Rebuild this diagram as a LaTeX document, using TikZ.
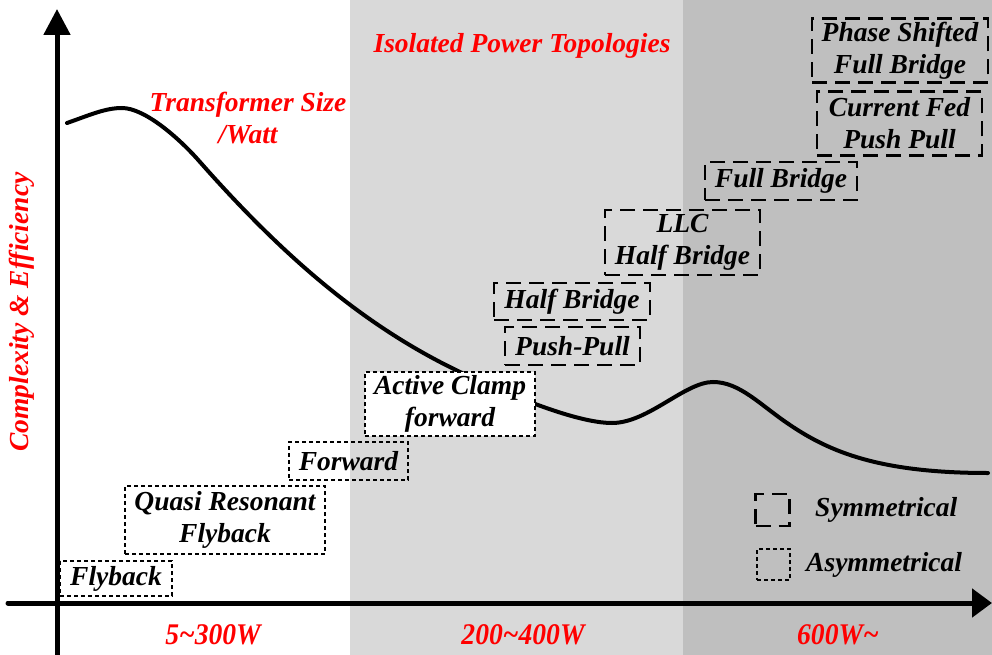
\documentclass[tikz,border=0pt]{standalone}
\usepackage{fontspec}
\setmainfont{Liberation Serif}
\usetikzlibrary{arrows.meta}
\definecolor{gA}{RGB}{217,217,217}
\definecolor{gB}{RGB}{191,191,191}
\tikzset{
  x=1pt, y=-1pt,
  lbl/.style={font=\fontsize{27.5}{32}\selectfont\bfseries\itshape, align=center, inner sep=0pt},
  redlbl/.style={lbl, text=red},
  rangelbl/.style={redlbl, font=\fontsize{30}{32}\selectfont\bfseries\itshape, xscale=0.92},
  symbox/.style={lbl, draw=black, line width=2.6pt, dash pattern=on 15pt off 8pt},
  asybox/.style={lbl, draw=black, line width=2.2pt, dash pattern=on 4pt off 3pt},
}
\begin{document}
\begin{tikzpicture}
\useasboundingbox (0,0) rectangle (992,655);
% background bands
\fill[white] (0,0) rectangle (350,655);
\fill[gA] (350,0) rectangle (683,655);
\fill[gB] (683,0) rectangle (992,655);

% curve
\coordinate (c0) at (67,123);
\coordinate (c1) at (122,108);
\coordinate (c2) at (200,162);
\coordinate (c3) at (460,372);
\coordinate (c4) at (612,423);
\coordinate (c5) at (713,382);
\coordinate (c6) at (790,425);
\coordinate (c7) at (988,473);
\draw[line width=4pt, line cap=round]
  (c0) .. controls (90,115) and (105,108) .. (c1)
       .. controls (145,108) and (180,139) .. (c2)
       .. controls (290,264) and (370,329) .. (c3)
       .. controls (505,393) and (575,423) .. (c4)
       .. controls (648,423) and (685,382) .. (c5)
       .. controls (740,382) and (760,405) .. (c6)
       .. controls (830,452) and (880,473) .. (c7);

% axes
\coordinate (yb) at (57,655);
\coordinate (yt) at (57,9);
\coordinate (xl) at (8,603);
\coordinate (xr) at (992,603);
\draw[line width=5pt, -{Triangle[width=26pt,length=26pt]}] (yb) -- (yt);
\draw[line width=5pt, line cap=round, -{Triangle[width=28pt,length=20pt]}] (xl) -- (xr);

% labels
\node[redlbl] (ts) at (248,118) {Transformer Size\\/Watt};
\node[redlbl] (ipt) at (522,46) {Isolated Power Topologies};
\node[redlbl, rotate=90] (ce) at (22,312) {Complexity \& Efficiency};
\node[rangelbl] (r1) at (213,635) {5\char126 300W};
\node[rangelbl] (r2) at (523,635) {200\char126 400W};
\node[rangelbl] (r3) at (838,635) {600W\char126};

% asymmetrical boxes
\node[asybox, minimum width=112pt, minimum height=35pt] (fly) at (116,578.5) {Flyback};
\node[asybox, minimum width=200pt, minimum height=68pt] (qrf) at (225,520) {Quasi Resonant\\Flyback};
\node[asybox, minimum width=119pt, minimum height=38pt] (fwd) at (348.5,461) {Forward};
\node[asybox, fill=white, minimum width=170pt, minimum height=64pt] (acf) at (450,404) {Active Clamp\\forward};

% symmetrical boxes
\node[symbox, minimum width=135pt, minimum height=38pt] (pp) at (572.5,346) {Push-Pull};
\node[symbox, minimum width=156pt, minimum height=37pt] (hb) at (572,301.5) {Half Bridge};
\node[symbox, minimum width=155pt, minimum height=65pt] (llc) at (682.5,242.5) {LLC\\Half Bridge};
\node[symbox, minimum width=152pt, minimum height=38pt] (fb) at (781,181) {Full Bridge};
\node[symbox, minimum width=165pt, minimum height=64pt] (cfpp) at (899.5,123.5) {Current Fed\\Push Pull};
\node[symbox, minimum width=176pt, minimum height=64pt] (psfb) at (900,50.5) {Phase Shifted\\Full Bridge};

% legend
\node[symbox, minimum width=34pt, minimum height=32pt] (ls) at (772.5,510) {};
\node[lbl, anchor=west] (lst) at (815,510) {Symmetrical};
\node[asybox, minimum width=33pt, minimum height=31pt] (la) at (773.5,564.5) {};
\node[lbl, anchor=west] (lat) at (806,565) {Asymmetrical};
\end{tikzpicture}
\end{document}
